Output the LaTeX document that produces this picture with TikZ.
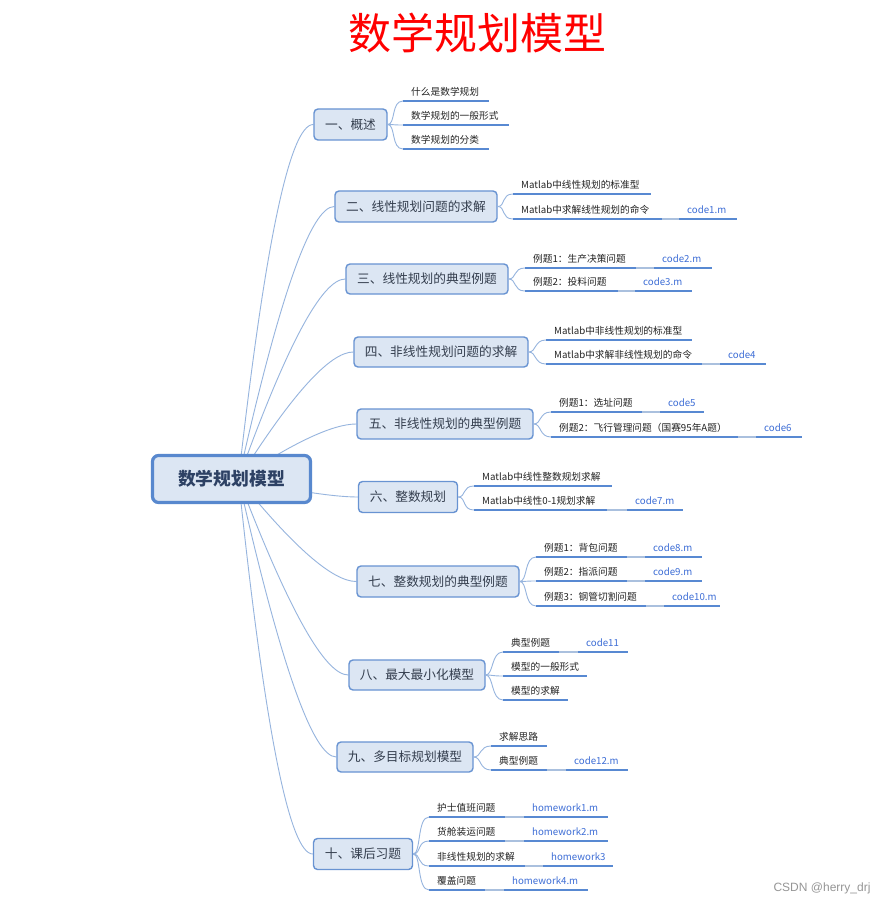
\documentclass[tikz,border=0pt]{standalone}
\usepackage{fontspec}
\setmainfont{Noto Sans CJK SC}
\newfontfamily\wmfont{Liberation Sans}
\usetikzlibrary{calc}
\pgfdeclarelayer{wl}
\pgfdeclarelayer{bgl}
\pgfsetlayers{wl,bgl,main}
\definecolor{boxfill}{RGB}{220,230,243}
\definecolor{boxdraw}{RGB}{104,147,210}
\definecolor{rootdraw}{RGB}{88,136,206}
\definecolor{conncol}{RGB}{150,180,222}
\definecolor{ulcol}{RGB}{88,137,210}
\definecolor{linkcol}{RGB}{170,192,222}
\definecolor{codecol}{RGB}{62,110,214}
\definecolor{branchtxt}{RGB}{52,62,78}
\definecolor{roottxt}{RGB}{45,65,100}
\definecolor{leaftxtc}{RGB}{35,35,35}
\definecolor{wmcol}{RGB}{150,150,150}
\newcommand\lf[5]{%
  \coordinate (#1s) at (#2,#4);
  \coordinate (#1e) at (#3,#4);
  \draw[ul] (#1s) -- (#1e);
  \node[leaftxt] (#1) at ({#2+8},{#4-5.5}) {#5};}
\newcommand\cd[6]{% name, from-leaf, xs, xe, y, text
  \coordinate (#1s) at (#3,#5);
  \coordinate (#1e) at (#4,#5);
  \draw[link] (#2e) -- (#1s);
  \draw[ul] (#1s) -- (#1e);
  \node[codetxt] (#1) at ({#3+8},{#5-5.5}) {#6};}
\newcommand\bl[2]{\draw[conn] (#1.east) .. controls +(8,0) and +(-12,0) .. (#2s);}
\newcommand\rl[1]{%
  \path ([xshift=-35pt]#1.west) coordinate (#1c);
  \draw[conn] (rs) .. controls ($(rs)!0.6667!(#1c)$) and ($(#1.west)!0.6667!(#1c)$) .. (#1.west);}
\begin{document}
\begin{tikzpicture}[x=1pt,y=-1pt,
  branch/.style={draw=boxdraw, line width=1.4pt, fill=boxfill, rounded corners=4pt, inner sep=0pt,
    font=\fontsize{12.7}{14}\selectfont, text=branchtxt},
  rootbox/.style={draw=rootdraw, line width=3.2pt, fill=boxfill, rounded corners=6pt, inner sep=0pt,
    font=\fontsize{17.8}{20}\selectfont\bfseries, text=roottxt},
  leaftxt/.style={anchor=base west, inner sep=0pt, font=\fontsize{9.7}{11}\selectfont, text=leaftxtc},
  codetxt/.style={leaftxt, text=codecol},
  ul/.style={draw=ulcol, line width=2.4pt},
  conn/.style={draw=conncol, line width=0.9pt},
  link/.style={draw=linkcol, line width=1.4pt}]
\begin{pgfonlayer}{wl}
\path[use as bounding box, fill=white] (0,0) rectangle (893,909);
\end{pgfonlayer}
% title
\node[font=\fontsize{43}{50}\selectfont, text=red, inner sep=0pt] (title) at (477,33) {数学规划模型};
% root
\node[rootbox, minimum width=158pt, minimum height=47pt] (root) at (231.5,479) {数学规划模型};
\coordinate (rs) at ([xshift=7pt]root.center);
% branches
\node[branch, minimum width=73pt, minimum height=31pt] (b1) at (350.5,124.5) {一、概述};
\node[branch, minimum width=162pt, minimum height=31pt] (b2) at (416,206.5) {二、线性规划问题的求解};
\node[branch, minimum width=162pt, minimum height=30pt] (b3) at (427,279) {三、线性规划的典型例题};
\node[branch, minimum width=174pt, minimum height=30pt] (b4) at (441,352) {四、非线性规划问题的求解};
\node[branch, minimum width=176pt, minimum height=30pt] (b5) at (445,424) {五、非线性规划的典型例题};
\node[branch, minimum width=99pt, minimum height=31pt] (b6) at (408,497) {六、整数规划};
\node[branch, minimum width=162pt, minimum height=31pt] (b7) at (438,581.5) {七、整数规划的典型例题};
\node[branch, minimum width=136pt, minimum height=30pt] (b8) at (417,675) {八、最大最小化模型};
\node[branch, minimum width=136pt, minimum height=30pt] (b9) at (405,757) {九、多目标规划模型};
\node[branch, minimum width=99pt, minimum height=31pt] (b10) at (363,854) {十、课后习题};
\begin{pgfonlayer}{bgl}
\rl{b1}\rl{b2}\rl{b3}\rl{b4}\rl{b5}\rl{b6}\rl{b7}\rl{b8}\rl{b9}\rl{b10}
\end{pgfonlayer}
% leaves 1
\lf{la1}{403}{489}{101}{什么是数学规划}
\lf{la2}{403}{509}{125}{数学规划的一般形式}
\lf{la3}{403}{489}{149}{数学规划的分类}
\bl{b1}{la1}\bl{b1}{la2}\bl{b1}{la3}
% leaves 2
\lf{lb1}{513}{651}{194}{Matlab中线性规划的标准型}
\lf{lb2}{513}{662}{219}{Matlab中求解线性规划的命令}
\cd{cb2}{lb2}{679}{737}{219}{code1.m}
\bl{b2}{lb1}\bl{b2}{lb2}
% leaves 3
\lf{lc1}{525}{636}{268}{例题1：生产决策问题}
\cd{cc1}{lc1}{654}{712}{268}{code2.m}
\lf{lc2}{525}{618}{291}{例题2：投料问题}
\cd{cc2}{lc2}{635}{692}{291}{code3.m}
\bl{b3}{lc1}\bl{b3}{lc2}
% leaves 4
\lf{ld1}{546}{692}{340}{Matlab中非线性规划的标准型}
\lf{ld2}{546}{702}{364}{Matlab中求解非线性规划的命令}
\cd{cd2}{ld2}{720}{766}{364}{code4}
\bl{b4}{ld1}\bl{b4}{ld2}
% leaves 5
\lf{le1}{551}{642}{412}{例题1：选址问题}
\cd{ce1}{le1}{660}{704}{412}{code5}
\lf{le2}{551}{738}{437}{例题2：飞行管理问题（国赛95年A题）}
\cd{ce2}{le2}{756}{802}{437}{code6}
\bl{b5}{le1}\bl{b5}{le2}
% leaves 6
\lf{lf1}{474}{612}{486}{Matlab中线性整数规划求解}
\lf{lf2}{474}{607}{510}{Matlab中线性0-1规划求解}
\cd{cf2}{lf2}{627}{683}{510}{code7.m}
\bl{b6}{lf1}\bl{b6}{lf2}
% leaves 7
\lf{lg1}{536}{627}{557}{例题1：背包问题}
\cd{cg1}{lg1}{645}{702}{557}{code8.m}
\lf{lg2}{536}{627}{581}{例题2：指派问题}
\cd{cg2}{lg2}{645}{702}{581}{code9.m}
\lf{lg3}{536}{646}{606}{例题3：钢管切割问题}
\cd{cg3}{lg3}{664}{720}{606}{code10.m}
\bl{b7}{lg1}\bl{b7}{lg2}\bl{b7}{lg3}
% leaves 8
\lf{lh1}{503}{559}{652}{典型例题}
\cd{ch1}{lh1}{578}{628}{652}{code11}
\lf{lh2}{503}{587}{676}{模型的一般形式}
\lf{lh3}{503}{568}{700}{模型的求解}
\bl{b8}{lh1}\bl{b8}{lh2}\bl{b8}{lh3}
% leaves 9
\lf{li1}{491}{547}{746}{求解思路}
\lf{li2}{491}{547}{770}{典型例题}
\cd{ci2}{li2}{566}{628}{770}{code12.m}
\bl{b9}{li1}\bl{b9}{li2}
% leaves 10
\lf{lj1}{429}{505}{817}{护士值班问题}
\cd{cj1}{lj1}{524}{608}{817}{homework1.m}
\lf{lj2}{429}{505}{841}{货舱装运问题}
\cd{cj2}{lj2}{524}{608}{841}{homework2.m}
\lf{lj3}{429}{525}{866}{非线性规划的求解}
\cd{cj3}{lj3}{543}{613}{866}{homework3}
\lf{lj4}{429}{485}{890}{覆盖问题}
\cd{cj4}{lj4}{504}{588}{890}{homework4.m}
\bl{b10}{lj1}\bl{b10}{lj2}\bl{b10}{lj3}\bl{b10}{lj4}
% watermark
\node[font=\wmfont\fontsize{12}{14}\selectfont, text=wmcol, inner sep=0pt] (wm) at (822,888) {CSDN @herry\_drj};
\end{tikzpicture}
\end{document}
